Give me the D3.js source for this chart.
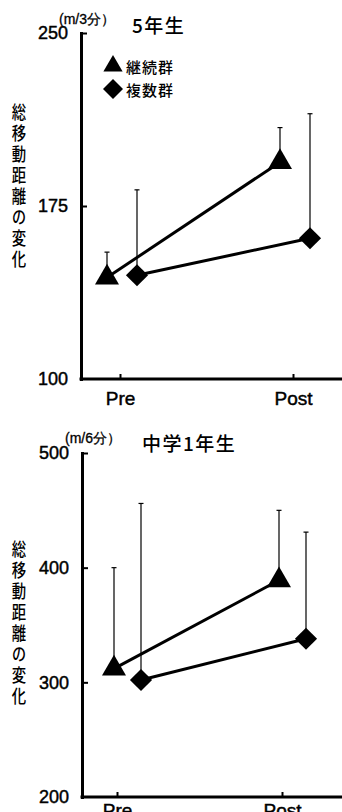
<!DOCTYPE html>
<html>
<head>
<meta charset="utf-8">
<script src="https://cdn.jsdelivr.net/npm/d3@7"></script>
<style>
  html, body { margin: 0; padding: 0; background: #fff; }
  svg { display: block; }
  .num { font-family: "Liberation Sans", Arial, sans-serif; stroke: #000; stroke-width: 0.45px; }
  .jp { font-family: "Noto Sans CJK JP", sans-serif; font-weight: 500; }
</style>
</head>
<body>
<div id="chart"></div>
<script>
const categories = ['Pre', 'Post']
const seriesNames = ['継続群', '複数群']

// 5年生 (m/3分)
const g5Keizoku = [144, 194]
const g5KeizokuSD = [11, 15]
const g5Fukusu = [145, 161]
const g5FukusuSD = [37, 54]
const g5Ticks = [100, 175, 250]

// 中学1年生 (m/6分)
const j1Keizoku = [312, 389]
const j1KeizokuSD = [88, 61]
const j1Fukusu = [302, 338]
const j1FukusuSD = [154, 93]
const j1Ticks = [200, 300, 400, 500]

const yLabel = '総移動距離の変化'

const W = 342, H = 812

const svg = d3.select('#chart').append('svg')
  .attr('width', W).attr('height', H)

const panels = [
  {
    title: '5年生', unit: '(m/3分）',
    series: [
      { name: seriesNames[0], mean: g5Keizoku, sd: g5KeizokuSD, shape: 'tri', dx: -13 },
      { name: seriesNames[1], mean: g5Fukusu, sd: g5FukusuSD, shape: 'dia', dx: 17 }
    ],
    ticks: g5Ticks, domain: [100, 250],
    axisX: 81, top: 33, bottom: 379, pre: 120, post: 293,
    titleX: 132, titleY: 33, unitX: 59, unitY: 24,
    labelTop: 103, xPad: 13, legend: true
  },
  {
    title: '中学1年生', unit: '(m/6分）',
    series: [
      { name: seriesNames[0], mean: j1Keizoku, sd: j1KeizokuSD, shape: 'tri', dx: -3 },
      { name: seriesNames[1], mean: j1Fukusu, sd: j1FukusuSD, shape: 'dia', dx: 24 }
    ],
    ticks: j1Ticks, domain: [200, 500],
    axisX: 82, top: 453, bottom: 797, pre: 117, post: 282,
    titleX: 142, titleY: 451, unitX: 65, unitY: 443,
    labelTop: 540, xPad: 7, legend: false
  }
]

const triangle = d3.symbol().type(d3.symbolTriangle)
const square = d3.symbol().type(d3.symbolSquare)

function marker (sel, shape, big) {
  if (shape === 'tri') {
    sel.append('path').attr('d', triangle.size(big ? 250 : 160)())
  } else {
    sel.append('path').attr('d', square.size(big ? 245 : 200)()).attr('transform', 'rotate(45)')
  }
}

panels.forEach(p => {
  const g = svg.append('g')
  const y = d3.scaleLinear().domain(p.domain).range([p.bottom, p.top])
  const x = d3.scalePoint().domain(categories).range([p.pre, p.post])

  // axes
  const yAxis = g.append('g')
    .attr('transform', `translate(${p.axisX},0)`)
    .call(d3.axisLeft(y).tickValues(p.ticks).tickSizeInner(-6).tickSizeOuter(0).tickPadding(13).tickFormat(d3.format('d')))
  yAxis.select('.domain').attr('stroke-width', 3).attr('stroke-linecap', 'square')
  yAxis.selectAll('.tick line').attr('stroke-width', 2)
  yAxis.selectAll('.tick').filter(d => d === p.domain[0]).select('line').remove()
  yAxis.selectAll('text').attr('class', 'num').attr('font-size', 18).attr('fill', '#000')

  g.append('line')
    .attr('x1', p.axisX).attr('x2', W)
    .attr('y1', p.bottom).attr('y2', p.bottom)
    .attr('stroke', '#000').attr('stroke-width', 3).attr('stroke-linecap', 'square')

  const xAxis = g.append('g')
    .attr('transform', `translate(0,${p.bottom})`)
    .call(d3.axisBottom(x).tickSizeInner(-5).tickSizeOuter(0).tickPadding(p.xPad))
  xAxis.select('.domain').remove()
  xAxis.selectAll('.tick line').attr('stroke-width', 2)
  xAxis.selectAll('text').attr('class', 'num').attr('font-size', 19).attr('fill', '#000')

  // titles
  g.append('text').attr('class', 'num')
    .attr('x', p.unitX).attr('y', p.unitY)
    .attr('font-size', 14).style('stroke-width', '0.3px').text(p.unit)
  g.append('text').attr('class', 'jp')
    .attr('x', p.titleX).attr('y', p.titleY)
    .attr('font-size', 19).attr('letter-spacing', 1.5).text(p.title)

  // vertical y label
  g.append('text')
    .attr('class', 'jp')
    .attr('font-size', 18)
    .attr('letter-spacing', 3)
    .style('writing-mode', 'vertical-rl')
    .attr('transform', `translate(19,${p.labelTop}) scale(0.8,1)`)
    .text(yLabel)

  // error bars
  p.series.forEach(s => {
    const eb = g.append('g').attr('stroke', '#000').attr('stroke-width', 1.2)
    categories.forEach((c, i) => {
      const cx = x(c) + s.dx
      eb.append('line').attr('x1', cx).attr('x2', cx)
        .attr('y1', y(s.mean[i])).attr('y2', y(s.mean[i] + s.sd[i]))
      eb.append('line').attr('x1', cx - 2.5).attr('x2', cx + 2.5)
        .attr('y1', y(s.mean[i] + s.sd[i])).attr('y2', y(s.mean[i] + s.sd[i]))
    })
  })

  // lines
  const line = d3.line()
  p.series.forEach(s => {
    g.append('path')
      .attr('d', line(categories.map((c, i) => [x(c) + s.dx, y(s.mean[i])])))
      .attr('fill', 'none').attr('stroke', '#000').attr('stroke-width', 3)
  })

  // markers
  p.series.forEach(s => {
    categories.forEach((c, i) => {
      g.append('g')
        .attr('transform', `translate(${x(c) + s.dx},${y(s.mean[i])})`)
        .call(marker, s.shape, true)
    })
  })

  if (p.legend) {
    const lg = g.append('g')
    p.series.forEach((s, i) => {
      const ly = 66 + i * 23
      lg.append('g').attr('transform', `translate(113,${ly})`).call(marker, s.shape, false)
      lg.append('text').attr('class', 'jp')
        .attr('x', 126).attr('y', ly).attr('dominant-baseline', 'central')
        .attr('font-size', 15).attr('letter-spacing', 1).text(s.name)
    })
  }
})
</script>
</body>
</html>
